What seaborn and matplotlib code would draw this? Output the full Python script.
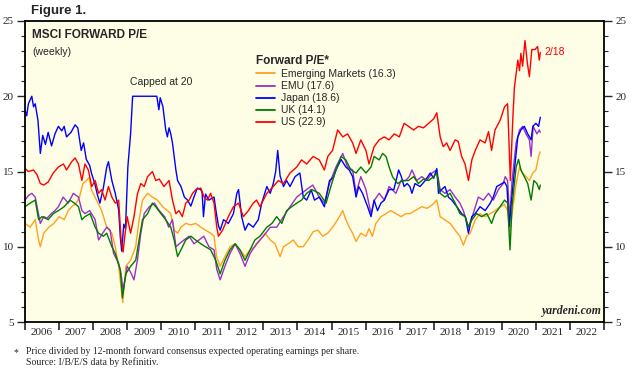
"""MSCI forward P/E by region, weekly, 2006 to Feb 2021."""

import matplotlib
matplotlib.use("Agg")
import matplotlib.pyplot as plt
from matplotlib.ticker import MultipleLocator, FixedLocator, NullFormatter
import pandas as pd
import seaborn as sns

# decimal-year / value pairs
em_t = [2006.00, 2006.15, 2006.30, 2006.40, 2006.45, 2006.55, 2006.70, 2006.85, 2007.00, 2007.15,
        2007.27, 2007.37, 2007.50, 2007.60, 2007.70, 2007.80, 2007.88, 2007.95, 2008.00, 2008.10,
        2008.25, 2008.40, 2008.55, 2008.65, 2008.75, 2008.84, 2008.87, 2008.96, 2009.10, 2009.25,
        2009.35, 2009.45, 2009.60, 2009.74, 2009.89, 2010.04, 2010.18, 2010.28, 2010.38, 2010.48,
        2010.58, 2010.72, 2010.87, 2011.01, 2011.16, 2011.30, 2011.45, 2011.55, 2011.63, 2011.73,
        2011.87, 2012.02, 2012.17, 2012.31, 2012.46, 2012.61, 2012.75, 2012.90, 2013.05, 2013.20,
        2013.34, 2013.49, 2013.59, 2013.73, 2013.88, 2014.02, 2014.17, 2014.31, 2014.46, 2014.60,
        2014.74, 2014.89, 2015.03, 2015.18, 2015.33, 2015.42, 2015.52, 2015.62, 2015.72, 2015.86,
        2016.01, 2016.10, 2016.20, 2016.30, 2016.45, 2016.60, 2016.74, 2016.89, 2017.04, 2017.18,
        2017.30, 2017.45, 2017.65, 2017.80, 2017.95, 2018.09, 2018.19, 2018.33, 2018.48, 2018.63,
        2018.77, 2018.87, 2018.97, 2019.07, 2019.22, 2019.36, 2019.51, 2019.66, 2019.80, 2019.95,
        2020.08, 2020.17, 2020.23, 2020.30, 2020.42, 2020.52, 2020.61, 2020.71, 2020.81, 2020.91,
        2021.00, 2021.08, 2021.13]
em_v = [11.55, 11.3, 11.8, 10.45, 10.0, 10.9, 11.3, 11.55, 12.0, 11.8,
        12.4, 12.66, 12.9, 13.3, 14.2, 14.4, 14.6, 13.8, 13.55, 13.1,
        12.4, 11.3, 10.9, 10.0, 8.7, 6.9, 6.3, 8.7, 9.1, 10.0,
        11.8, 13.1, 13.55, 13.3, 13.1, 12.66, 12.4, 12.2, 11.1, 10.9,
        11.3, 11.55, 11.45, 11.55, 11.3, 11.1, 10.9, 10.7, 9.3, 8.7,
        9.35, 10.0, 10.2, 9.8, 9.35, 9.8, 10.0, 10.45, 10.9, 10.45,
        10.2, 9.35, 10.0, 10.2, 10.45, 10.0, 10.0, 10.45, 11.0, 11.1,
        10.7, 10.9, 11.3, 11.8, 12.4, 11.8, 11.3, 10.9, 10.35, 10.9,
        10.7, 11.2, 10.7, 11.55, 12.0, 12.2, 12.4, 12.2, 12.0, 12.2,
        12.2, 12.4, 12.66, 12.55, 12.77, 13.1, 12.0, 11.78, 11.55, 11.1,
        10.7, 10.1, 10.7, 10.9, 11.78, 12.2, 12.0, 12.2, 12.4, 12.66,
        12.8, 12.4, 11.0, 12.2, 14.2, 15.3, 14.9, 14.66, 14.4, 14.9,
        15.1, 16.0, 16.3]

emu_t = [2006.00, 2006.10, 2006.20, 2006.30, 2006.45, 2006.55, 2006.65, 2006.77, 2006.88, 2006.98,
         2007.12, 2007.27, 2007.42, 2007.57, 2007.67, 2007.76, 2007.90, 2008.06, 2008.16, 2008.28,
         2008.40, 2008.50, 2008.60, 2008.75, 2008.82, 2008.88, 2008.95, 2009.00, 2009.10, 2009.20,
         2009.30, 2009.40, 2009.50, 2009.65, 2009.80, 2009.94, 2010.10, 2010.22, 2010.33, 2010.43,
         2010.53, 2010.67, 2010.82, 2010.96, 2011.11, 2011.25, 2011.40, 2011.55, 2011.63, 2011.73,
         2011.87, 2012.02, 2012.17, 2012.31, 2012.46, 2012.61, 2012.80, 2013.00, 2013.20, 2013.39,
         2013.59, 2013.78, 2013.98, 2014.12, 2014.27, 2014.45, 2014.64, 2014.79, 2014.94, 2015.13,
         2015.33, 2015.47, 2015.62, 2015.72, 2015.86, 2016.01, 2016.16, 2016.26, 2016.40, 2016.55,
         2016.69, 2016.89, 2017.04, 2017.18, 2017.28, 2017.36, 2017.50, 2017.65, 2017.80, 2017.95,
         2018.09, 2018.19, 2018.33, 2018.48, 2018.63, 2018.77, 2018.87, 2019.02, 2019.16, 2019.31,
         2019.46, 2019.61, 2019.75, 2019.90, 2020.04, 2020.10, 2020.17, 2020.23, 2020.30, 2020.42,
         2020.52, 2020.61, 2020.71, 2020.81, 2020.86, 2020.92, 2021.03, 2021.10, 2021.13]
emu_v = [13.1, 13.4, 13.55, 13.3, 11.55, 12.0, 11.9, 12.2, 12.4, 12.66,
         13.3, 12.9, 13.55, 13.3, 12.4, 12.2, 12.4, 11.8, 10.45, 10.9,
         11.3, 11.1, 9.56, 8.9, 8.2, 7.1, 8.0, 8.7, 8.3, 7.8,
         9.1, 10.9, 12.2, 12.66, 12.9, 12.4, 12.0, 11.3, 11.8, 10.0,
         10.2, 10.45, 10.7, 10.2, 10.45, 10.7, 10.0, 9.8, 8.5, 7.8,
         8.7, 9.56, 10.2, 9.56, 8.7, 9.56, 10.2, 10.7, 11.3, 11.3,
         12.0, 12.66, 13.3, 13.55, 13.8, 14.1, 13.3, 12.9, 14.2, 15.3,
         16.2, 15.3, 15.1, 13.55, 14.66, 13.8, 12.2, 13.1, 13.55, 13.1,
         14.0, 13.55, 14.4, 14.4, 14.66, 15.1, 14.4, 14.66, 14.4, 14.9,
         15.1, 13.8, 13.55, 13.8, 13.3, 12.9, 12.4, 11.3, 12.2, 13.3,
         13.1, 13.55, 13.1, 13.8, 14.2, 14.66, 14.4, 11.8, 14.4, 16.9,
         17.76, 18.0, 17.5, 17.1, 16.0, 18.0, 17.5, 17.76, 17.6]

japan_t = [2006.00, 2006.05, 2006.10, 2006.20, 2006.25, 2006.30, 2006.38, 2006.45, 2006.52, 2006.60,
           2006.68, 2006.78, 2006.88, 2006.98, 2007.08, 2007.15, 2007.22, 2007.35, 2007.47, 2007.55,
           2007.65, 2007.72, 2007.80, 2007.90, 2007.95, 2008.05, 2008.12, 2008.20, 2008.30, 2008.40,
           2008.45, 2008.55, 2008.65, 2008.75, 2008.80, 2008.84, 2008.90, 2008.95, 2009.02, 2009.10,
           2009.16, 2009.87, 2009.93, 2009.97, 2010.05, 2010.13, 2010.18, 2010.23, 2010.28, 2010.33,
           2010.43, 2010.48, 2010.58, 2010.68, 2010.77, 2010.87, 2010.96, 2011.06, 2011.16, 2011.20,
           2011.24, 2011.30, 2011.40, 2011.55, 2011.62, 2011.68, 2011.73, 2011.83, 2011.97, 2012.12,
           2012.22, 2012.27, 2012.36, 2012.46, 2012.56, 2012.70, 2012.85, 2012.95, 2013.10, 2013.20,
           2013.29, 2013.36, 2013.42, 2013.49, 2013.59, 2013.68, 2013.78, 2013.93, 2014.07, 2014.17,
           2014.27, 2014.36, 2014.40, 2014.50, 2014.64, 2014.79, 2014.94, 2015.05, 2015.13, 2015.28,
           2015.42, 2015.52, 2015.62, 2015.72, 2015.80, 2015.91, 2016.06, 2016.16, 2016.25, 2016.35,
           2016.45, 2016.55, 2016.69, 2016.83, 2016.97, 2017.05, 2017.13, 2017.22, 2017.30, 2017.36,
           2017.45, 2017.60, 2017.75, 2017.90, 2018.00, 2018.09, 2018.14, 2018.23, 2018.33, 2018.43,
           2018.53, 2018.68, 2018.82, 2018.93, 2019.02, 2019.12, 2019.22, 2019.36, 2019.51, 2019.66,
           2019.75, 2019.85, 2020.00, 2020.08, 2020.15, 2020.22, 2020.27, 2020.37, 2020.47, 2020.56,
           2020.66, 2020.76, 2020.86, 2020.91, 2021.00, 2021.08, 2021.13]
japan_v = [19.1, 18.7, 19.5, 20.0, 19.3, 19.5, 18.4, 16.2, 17.4, 16.8,
           17.6, 16.7, 17.5, 18.0, 17.7, 18.0, 17.3, 17.6, 18.1, 17.9,
           16.4, 16.9, 15.8, 15.4, 14.9, 14.2, 13.5, 12.9, 13.9, 15.3,
           15.65, 14.4, 13.55, 12.45, 10.6, 9.7, 11.5, 11.2, 15.3, 17.5,
           20.0, 20.0, 19.1, 19.9, 19.3, 17.8, 17.3, 17.9, 17.5, 16.9,
           15.1, 14.4, 14.0, 13.3, 13.1, 12.7, 13.3, 13.9, 13.8, 13.6,
           12.0, 13.5, 13.1, 13.3, 12.2, 11.4, 11.1, 11.8, 11.55, 12.2,
           13.55, 13.8, 12.0, 11.1, 11.55, 11.3, 11.8, 12.9, 14.0, 13.55,
           14.2, 15.0, 16.4, 14.7, 14.0, 14.4, 14.0, 14.66, 14.9, 13.3,
           13.1, 13.55, 13.8, 13.1, 13.3, 12.66, 14.4, 14.6, 15.1, 15.8,
           15.3, 15.1, 14.66, 13.3, 14.0, 13.55, 12.66, 12.0, 13.1, 12.4,
           12.9, 13.1, 13.8, 13.8, 15.1, 14.66, 14.0, 14.2, 14.0, 13.55,
           14.2, 14.0, 14.4, 14.9, 14.55, 15.2, 13.55, 13.8, 14.0, 13.3,
           13.1, 12.66, 12.2, 12.0, 10.9, 12.0, 12.2, 12.66, 12.4, 12.9,
           13.3, 14.0, 14.2, 14.3, 14.0, 11.35, 12.7, 15.1, 17.3, 17.76,
           18.0, 17.5, 17.1, 18.0, 18.2, 18.0, 18.6]

uk_t = [2006.00, 2006.15, 2006.30, 2006.40, 2006.50, 2006.68, 2006.83, 2006.98, 2007.15, 2007.32,
        2007.45, 2007.57, 2007.67, 2007.76, 2007.91, 2008.06, 2008.16, 2008.30, 2008.40, 2008.55,
        2008.65, 2008.80, 2008.86, 2008.96, 2009.10, 2009.25, 2009.35, 2009.45, 2009.60, 2009.74,
        2009.84, 2009.99, 2010.13, 2010.28, 2010.38, 2010.48, 2010.58, 2010.72, 2010.87, 2011.01,
        2011.16, 2011.30, 2011.45, 2011.60, 2011.66, 2011.73, 2011.87, 2012.02, 2012.17, 2012.31,
        2012.46, 2012.61, 2012.75, 2012.90, 2013.10, 2013.25, 2013.39, 2013.54, 2013.68, 2013.83,
        2013.98, 2014.12, 2014.27, 2014.42, 2014.64, 2014.84, 2014.98, 2015.13, 2015.28, 2015.42,
        2015.57, 2015.72, 2015.86, 2016.01, 2016.16, 2016.25, 2016.40, 2016.50, 2016.60, 2016.69,
        2016.79, 2016.94, 2017.09, 2017.26, 2017.41, 2017.55, 2017.70, 2017.85, 2018.00, 2018.09,
        2018.19, 2018.33, 2018.48, 2018.63, 2018.77, 2018.92, 2019.02, 2019.12, 2019.26, 2019.41,
        2019.56, 2019.70, 2019.80, 2019.95, 2020.08, 2020.17, 2020.24, 2020.30, 2020.42, 2020.49,
        2020.56, 2020.66, 2020.76, 2020.86, 2020.94, 2021.03, 2021.10, 2021.13]
uk_v = [12.66, 12.9, 13.1, 11.8, 12.0, 11.8, 12.2, 12.4, 12.66, 13.1,
        12.9, 12.66, 11.8, 12.0, 12.2, 11.3, 10.9, 10.7, 10.9, 10.0,
        9.56, 8.45, 6.6, 8.2, 8.7, 9.1, 10.45, 11.8, 12.2, 12.9,
        12.66, 12.2, 11.8, 11.3, 10.45, 9.35, 9.8, 10.45, 10.7, 10.45,
        10.2, 10.0, 9.8, 9.1, 8.7, 8.2, 9.1, 9.8, 10.2, 9.8,
        9.1, 9.8, 10.45, 10.7, 11.3, 11.55, 12.0, 11.55, 12.4, 12.66,
        12.9, 13.1, 13.55, 13.8, 13.55, 12.9, 14.0, 15.1, 16.0, 15.77,
        15.1, 14.9, 15.3, 14.9, 15.3, 16.0, 15.77, 16.2, 16.0, 15.3,
        14.66, 14.2, 14.4, 14.4, 14.66, 14.2, 14.5, 14.4, 14.66, 14.9,
        13.55, 13.3, 13.55, 12.9, 12.2, 12.0, 11.3, 11.78, 12.2, 12.0,
        12.2, 11.55, 12.2, 12.66, 13.1, 12.9, 9.8, 12.7, 15.3, 15.8,
        15.1, 14.66, 14.2, 13.1, 14.4, 14.2, 13.8, 14.1]

us_t = [2006.00, 2006.10, 2006.25, 2006.35, 2006.45, 2006.55, 2006.68, 2006.83, 2006.98, 2007.13,
        2007.22, 2007.37, 2007.47, 2007.57, 2007.67, 2007.76, 2007.86, 2007.96, 2008.06, 2008.16,
        2008.25, 2008.35, 2008.45, 2008.55, 2008.65, 2008.75, 2008.82, 2008.88, 2008.93, 2009.00,
        2009.10, 2009.20, 2009.30, 2009.40, 2009.50, 2009.60, 2009.74, 2009.84, 2009.94, 2010.08,
        2010.23, 2010.33, 2010.43, 2010.52, 2010.62, 2010.72, 2010.82, 2010.92, 2011.02, 2011.16,
        2011.26, 2011.36, 2011.45, 2011.55, 2011.63, 2011.68, 2011.80, 2011.97, 2012.12, 2012.27,
        2012.41, 2012.56, 2012.70, 2012.80, 2012.90, 2013.10, 2013.29, 2013.44, 2013.59, 2013.78,
        2013.98, 2014.12, 2014.27, 2014.46, 2014.64, 2014.79, 2014.89, 2015.03, 2015.18, 2015.33,
        2015.47, 2015.62, 2015.72, 2015.86, 2016.01, 2016.10, 2016.25, 2016.40, 2016.55, 2016.69,
        2016.84, 2016.99, 2017.13, 2017.26, 2017.41, 2017.55, 2017.70, 2017.85, 2018.00, 2018.09,
        2018.19, 2018.28, 2018.38, 2018.48, 2018.63, 2018.72, 2018.82, 2018.92, 2019.02, 2019.12,
        2019.22, 2019.36, 2019.51, 2019.61, 2019.70, 2019.80, 2019.95, 2020.08, 2020.17, 2020.22,
        2020.25, 2020.32, 2020.37, 2020.47, 2020.52, 2020.56, 2020.61, 2020.68, 2020.75, 2020.81,
        2020.88, 2020.97, 2021.05, 2021.10, 2021.13]
us_v = [15.2, 15.0, 15.1, 14.8, 14.2, 14.1, 14.3, 14.9, 15.3, 15.5,
        15.1, 15.65, 15.9, 15.5, 14.4, 15.5, 15.1, 14.0, 14.4, 13.55,
        13.8, 13.1, 14.0, 13.3, 12.9, 13.1, 10.5, 9.65, 10.7, 12.0,
        10.9, 12.0, 13.5, 14.2, 14.0, 14.66, 15.0, 14.4, 14.5, 14.0,
        14.4, 13.1, 12.2, 12.4, 12.0, 12.9, 13.1, 13.55, 13.8, 13.9,
        13.3, 13.1, 13.55, 12.9, 11.3, 10.7, 11.1, 12.0, 12.66, 12.9,
        12.0, 12.4, 12.9, 13.1, 12.66, 13.55, 14.0, 14.4, 14.2, 14.9,
        15.3, 15.77, 15.5, 16.0, 15.77, 15.1, 16.0, 16.4, 17.76, 17.3,
        17.5, 16.9, 16.2, 17.1, 16.4, 15.5, 16.65, 17.1, 17.3, 17.1,
        17.5, 17.3, 18.2, 18.0, 17.76, 18.0, 17.9, 18.2, 18.5, 18.9,
        17.3, 16.65, 16.9, 16.4, 17.1, 17.0, 16.0, 15.5, 14.4, 15.77,
        16.4, 17.1, 16.9, 17.65, 16.4, 17.76, 18.4, 19.3, 19.5, 16.2,
        14.4, 18.4, 20.6, 22.4, 21.7, 22.85, 22.0, 23.7, 22.2, 21.3,
        23.1, 23.1, 23.3, 22.4, 22.9]

labels = ["Emerging Markets (16.3)", "EMU (17.6)", "Japan (18.6)", "UK (14.1)", "US (22.9)"]
colors = ["#FFA21F", "#9B30C8", "#0000FF", "#007A00", "#FF0000"]
years = list(range(2006, 2023))

SANS = "Liberation Sans"
SERIF = "Liberation Serif"


def build_frame():
    parts = []
    for lab, t, v in zip(labels, [em_t, emu_t, japan_t, uk_t, us_t],
                         [em_v, emu_v, japan_v, uk_v, us_v]):
        parts.append(pd.DataFrame({"year": t, "pe": v, "series": lab}))
    return pd.concat(parts, ignore_index=True)


def main():
    sns.set_style("ticks")
    plt.rcParams["font.family"] = [SANS, "DejaVu Sans"]

    df = build_frame()

    fig = plt.figure(figsize=(6.4, 3.8), dpi=100)
    ax = fig.add_axes([25 / 640, 58 / 380, 579 / 640, 301 / 380])
    ax.set_facecolor("#FEFDE6")

    sns.lineplot(data=df, x="year", y="pe", hue="series", hue_order=labels,
                 palette=colors, estimator=None, linewidth=1.0, ax=ax, legend=False)

    ax.set_xlim(2006, 2023)
    ax.set_ylim(5, 25)
    ax.set_xlabel("")
    ax.set_ylabel("")

    # year boundaries as ticks, labels centred between them
    ax.xaxis.set_major_locator(FixedLocator(range(2006, 2024)))
    ax.xaxis.set_major_formatter(NullFormatter())
    ax.xaxis.set_minor_locator(FixedLocator([y + 0.5 for y in years]))
    ax.set_xticklabels([str(y) for y in years], minor=True)
    ax.tick_params(axis="x", which="major", direction="out", length=6, width=1.2)
    ax.tick_params(axis="x", which="minor", length=0, pad=4, labelsize=8)
    for lab in ax.get_xticklabels(minor=True):
        lab.set_fontfamily(SERIF)

    ax.yaxis.set_major_locator(MultipleLocator(5))
    ax.yaxis.set_minor_locator(MultipleLocator(1))
    ax.tick_params(axis="y", which="both", left=True, right=True,
                   labelleft=True, labelright=True, direction="out", labelsize=8)
    ax.tick_params(axis="y", which="major", length=6, width=1.0, pad=2)
    ax.tick_params(axis="y", which="minor", length=3, width=0.8)
    for lab in ax.get_yticklabels():
        lab.set_fontfamily(SERIF)
    for lab in ax.yaxis.get_ticklabels(which="both"):
        lab.set_fontfamily(SERIF)

    for sp in ax.spines.values():
        sp.set_visible(True)
        sp.set_color("black")
        sp.set_linewidth(1.3)

    handles = [plt.Line2D([], [], color=c, lw=1.3) for c in colors]
    leg = ax.legend(handles, labels, loc="upper left",
                    bbox_to_anchor=(256 / 640, 1 - 55 / 380), bbox_transform=fig.transFigure,
                    frameon=False, borderpad=0, borderaxespad=0, handlelength=1.8,
                    handletextpad=0.6, labelspacing=0.2, fontsize=7.5,
                    title="Forward P/E*", title_fontproperties={"weight": "bold", "size": 8.5},
                    alignment="left")

    ax.text(0.012, 0.975, "MSCI FORWARD P/E", transform=ax.transAxes,
            fontsize=8.5, fontweight="bold", va="top", ha="left")
    ax.text(0.012, 0.915, "(weekly)", transform=ax.transAxes,
            fontsize=7.5, va="top", ha="left")
    ax.text(2010.0, 20.95, "Capped at 20", fontsize=7.5, ha="center", va="center")
    ax.text(2021.25, 22.95, "2/18", fontsize=7.5, color="#FF0000", ha="left", va="center")
    ax.text(2022.9, 5.35, "yardeni.com", fontsize=8.5, fontweight="bold", fontstyle="italic",
            fontfamily=SERIF, ha="right", va="bottom")

    fig.text(31 / 640, 1 - 5 / 380, "Figure 1.", fontsize=9.5, fontweight="bold",
             ha="left", va="top")
    fig.text(14 / 640, 1 - 348 / 380, "*", fontsize=7, fontfamily=SERIF, ha="left", va="top")
    fig.text(26 / 640, 1 - 346 / 380,
             "Price divided by 12-month forward consensus expected operating earnings per share.\n"
             "Source: I/B/E/S data by Refinitiv.",
             fontsize=7, fontfamily=SERIF, ha="left", va="top", linespacing=1.15)

    fig.savefig("out.png", dpi=100, facecolor="white")


if __name__ == "__main__":
    main()
